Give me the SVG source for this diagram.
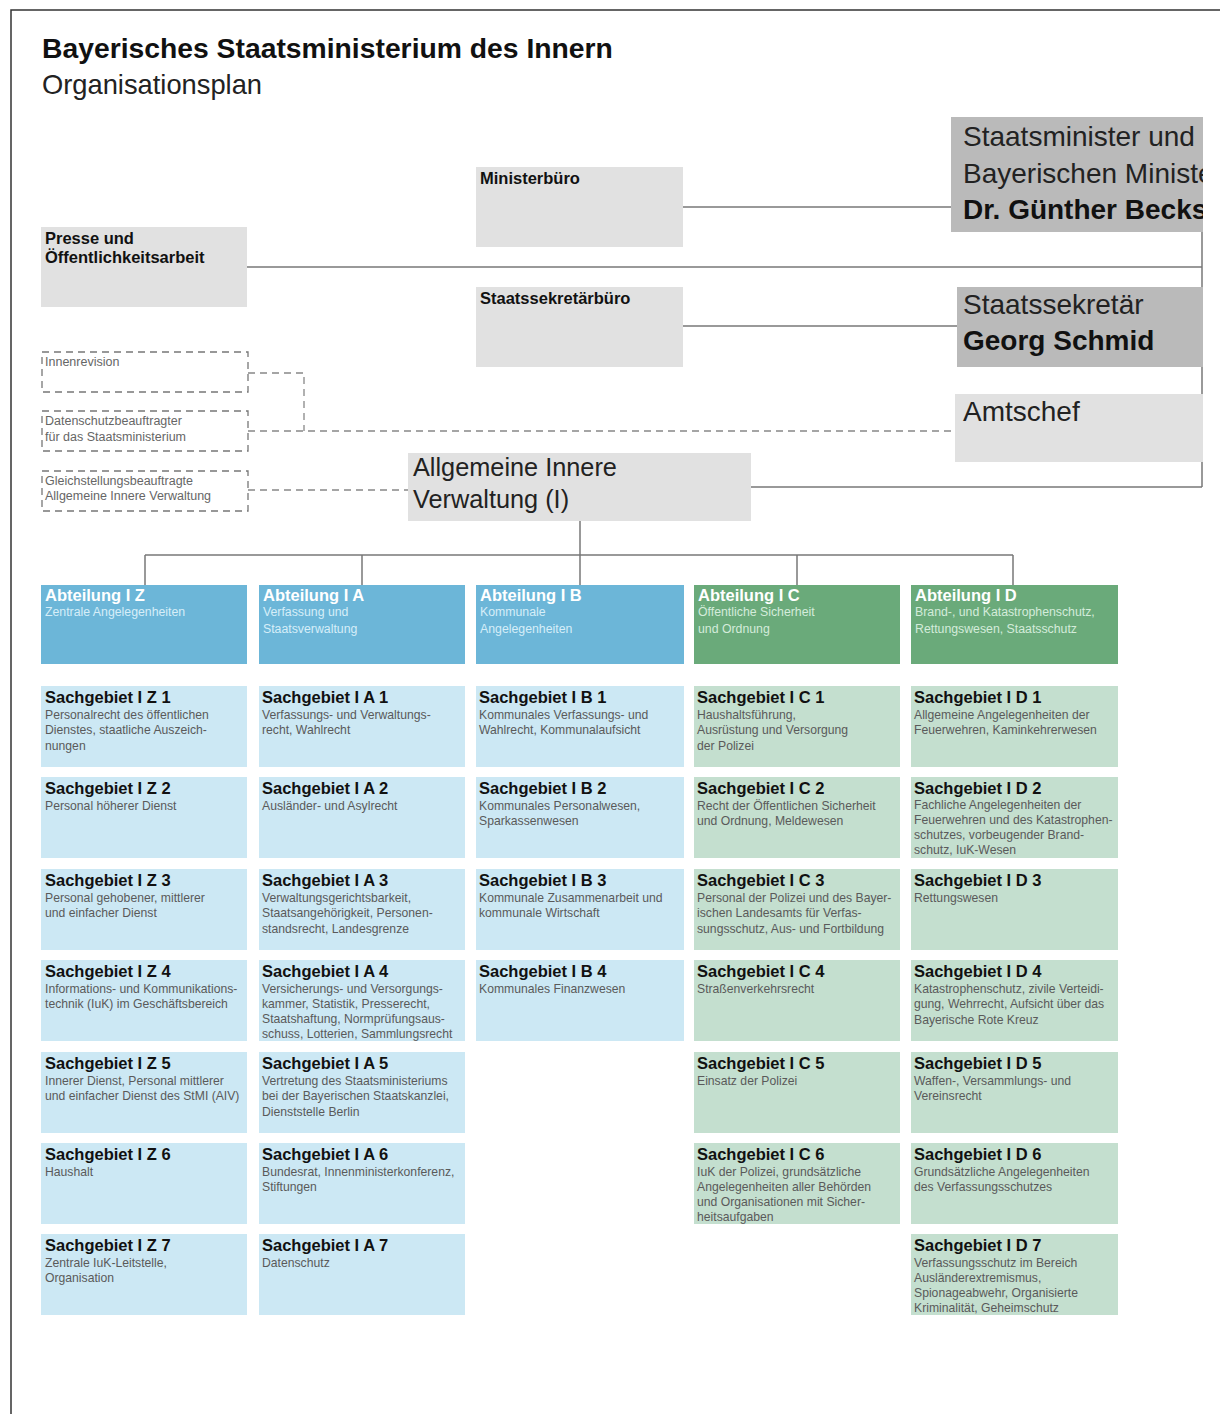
<svg xmlns="http://www.w3.org/2000/svg" width="1220" height="1414" viewBox="0 0 1220 1414">
  <style>
    text { font-family: "Liberation Sans", Arial, sans-serif; }
    .frame { stroke: #333; stroke-width: 1.5; fill: none; }
    .h1 { font-size: 28.3px; font-weight: bold; fill: #111; }
    .h2 { font-size: 27.3px; fill: #222; }
    .box-lt { fill: #e1e1e1; }
    .box-dk { fill: #bababa; }
    .lbl { font-size: 16.5px; font-weight: bold; fill: #111; }
    .big { font-size: 28px; fill: #222; }
    .bigb { font-size: 28px; font-weight: bold; fill: #111; }
    .mid { font-size: 25.3px; fill: #222; }
    .dbox { fill: none; stroke: #777; stroke-width: 1.3; stroke-dasharray: 7 5; }
    .dtxt { font-size: 12.5px; fill: #666; }
    .conn { stroke: #777; stroke-width: 1.5; fill: none; }
    .dconn { stroke: #888; stroke-width: 1.3; fill: none; stroke-dasharray: 7 5; }
    .abt-b { fill: #6cb6d8; }
    .abt-g { fill: #6aaa7a; }
    .sg-b { fill: #cce8f4; }
    .sg-g { fill: #c4dfcf; }
    .at { font-size: 16.5px; font-weight: bold; fill: #fff; }
    .as-b { font-size: 12.3px; fill: #d6eef8; }
    .as-g { font-size: 12.3px; fill: #d4ecda; }
    .st { font-size: 16.5px; font-weight: bold; fill: #111; }
    .sd { font-size: 12.2px; fill: #5a5a5a; }
  </style>
  <defs>
    <clipPath id="clipRight">
      <rect x="0" y="0" width="1203" height="1414"/>
    </clipPath>
  </defs>

  <!-- page frame -->
  <path class="frame" d="M11 1414 V10 H1220"/>

  <!-- heading -->
  <text class="h1" x="42" y="58">Bayerisches Staatsministerium des Innern</text>
  <text class="h2" x="42" y="94">Organisationsplan</text>

  <!-- connectors -->
  <g id="connectors">
    <line class="conn" x1="683" y1="207" x2="951" y2="207"/>
    <line class="conn" x1="247" y1="267" x2="1202" y2="267"/>
    <line class="conn" x1="683" y1="326" x2="957" y2="326"/>
    <line class="conn" x1="1202" y1="232" x2="1202" y2="487"/>
    <line class="conn" x1="751" y1="487" x2="1202" y2="487"/>
    <line class="conn" x1="580" y1="521" x2="580" y2="555"/>
    <line class="conn" x1="145" y1="555" x2="1013" y2="555"/>
    <line class="conn" x1="145" y1="555" x2="145" y2="585"/>
    <line class="conn" x1="362" y1="555" x2="362" y2="585"/>
    <line class="conn" x1="580" y1="555" x2="580" y2="585"/>
    <line class="conn" x1="797" y1="555" x2="797" y2="585"/>
    <line class="conn" x1="1013" y1="555" x2="1013" y2="585"/>
    <path class="dconn" d="M248 373 H304 V431"/>
    <line class="dconn" x1="248" y1="431" x2="955" y2="431"/>
    <line class="dconn" x1="248" y1="490" x2="408" y2="490"/>
  </g>

  <!-- leadership -->
  <g id="staatsminister" clip-path="url(#clipRight)">
    <rect class="box-dk" x="951" y="117" width="252" height="115"/>
    <text class="big" x="963" y="146">Staatsminister und</text>
    <text class="big" x="963" y="183">Bayerischen Ministe</text>
    <text class="bigb" x="963" y="219">Dr. Günther Becks</text>
  </g>
  <g id="staatssekretaer" clip-path="url(#clipRight)">
    <rect class="box-dk" x="957" y="287" width="246" height="80"/>
    <text class="big" x="963" y="314">Staatssekretär</text>
    <text class="bigb" x="963" y="350">Georg Schmid</text>
  </g>
  <g id="amtschef">
    <rect class="box-lt" x="955" y="394" width="248" height="68"/>
    <text class="big" x="963" y="421">Amtschef</text>
  </g>
  <g id="ministerbuero">
    <rect class="box-lt" x="476" y="167" width="207" height="80"/>
    <text class="lbl" x="480" y="184">Ministerbüro</text>
  </g>
  <g id="staatssekretaerbuero">
    <rect class="box-lt" x="476" y="287" width="207" height="80"/>
    <text class="lbl" x="480" y="304">Staatssekretärbüro</text>
  </g>
  <g id="presse">
    <rect class="box-lt" x="41" y="227" width="206" height="80"/>
    <text class="lbl" x="45" y="244">Presse und</text>
    <text class="lbl" x="45" y="263">Öffentlichkeitsarbeit</text>
  </g>

  <!-- staff units (dashed) -->
  <g id="innenrevision">
    <rect class="dbox" x="42" y="352" width="206" height="40"/>
    <text class="dtxt" x="45" y="366">Innenrevision</text>
  </g>
  <g id="datenschutzbeauftragter">
    <rect class="dbox" x="42" y="411" width="206" height="40"/>
    <text class="dtxt" x="45" y="425">Datenschutzbeauftragter</text>
    <text class="dtxt" x="45" y="441">für das Staatsministerium</text>
  </g>
  <g id="gleichstellung">
    <rect class="dbox" x="42" y="471" width="206" height="40"/>
    <text class="dtxt" x="45" y="485">Gleichstellungsbeauftragte</text>
    <text class="dtxt" x="45" y="500">Allgemeine Innere Verwaltung</text>
  </g>

  <g id="allgemeine-innere-verwaltung">
    <rect class="box-lt" x="408" y="453" width="343" height="68"/>
    <text class="mid" x="413" y="476">Allgemeine Innere</text>
    <text class="mid" x="413" y="508">Verwaltung (I)</text>
  </g>

  <!-- departments -->
  <g id="abt-iz">
    <rect class="abt-b" x="41" y="585" width="206" height="79"/>
    <text class="at" x="45" y="601">Abteilung I Z</text>
    <text class="as-b" x="45" y="616">Zentrale Angelegenheiten</text>
  </g>
  <g id="abt-ia">
    <rect class="abt-b" x="259" y="585" width="206" height="79"/>
    <text class="at" x="263" y="601">Abteilung I A</text>
    <text class="as-b" x="263" y="616">Verfassung und</text>
    <text class="as-b" x="263" y="633">Staatsverwaltung</text>
  </g>
  <g id="abt-ib">
    <rect class="abt-b" x="476" y="585" width="208" height="79"/>
    <text class="at" x="480" y="601">Abteilung I B</text>
    <text class="as-b" x="480" y="616">Kommunale</text>
    <text class="as-b" x="480" y="633">Angelegenheiten</text>
  </g>
  <g id="abt-ic">
    <rect class="abt-g" x="694" y="585" width="206" height="79"/>
    <text class="at" x="698" y="601">Abteilung I C</text>
    <text class="as-g" x="698" y="616">Öffentliche Sicherheit</text>
    <text class="as-g" x="698" y="633">und Ordnung</text>
  </g>
  <g id="abt-id">
    <rect class="abt-g" x="911" y="585" width="207" height="79"/>
    <text class="at" x="915" y="601">Abteilung I D</text>
    <text class="as-g" x="915" y="616">Brand-, und Katastrophenschutz,</text>
    <text class="as-g" x="915" y="633">Rettungswesen, Staatsschutz</text>
  </g>

  <!-- Sachgebiete I Z -->
  <g id="sg-iz1"><rect class="sg-b" x="41" y="686" width="206" height="81"/>
    <text class="st" x="45" y="703">Sachgebiet I Z 1</text>
    <text class="sd" x="45" y="719">Personalrecht des öffentlichen</text>
    <text class="sd" x="45" y="734">Dienstes, staatliche Auszeich-</text>
    <text class="sd" x="45" y="750">nungen</text></g>
  <g id="sg-iz2"><rect class="sg-b" x="41" y="777" width="206" height="81"/>
    <text class="st" x="45" y="794">Sachgebiet I Z 2</text>
    <text class="sd" x="45" y="810">Personal höherer Dienst</text></g>
  <g id="sg-iz3"><rect class="sg-b" x="41" y="869" width="206" height="81"/>
    <text class="st" x="45" y="886">Sachgebiet I Z 3</text>
    <text class="sd" x="45" y="902">Personal gehobener, mittlerer</text>
    <text class="sd" x="45" y="917">und einfacher Dienst</text></g>
  <g id="sg-iz4"><rect class="sg-b" x="41" y="960" width="206" height="81"/>
    <text class="st" x="45" y="977">Sachgebiet I Z 4</text>
    <text class="sd" x="45" y="993">Informations- und Kommunikations-</text>
    <text class="sd" x="45" y="1008">technik (IuK) im Geschäftsbereich</text></g>
  <g id="sg-iz5"><rect class="sg-b" x="41" y="1052" width="206" height="81"/>
    <text class="st" x="45" y="1069">Sachgebiet I Z 5</text>
    <text class="sd" x="45" y="1085">Innerer Dienst, Personal mittlerer</text>
    <text class="sd" x="45" y="1100">und einfacher Dienst des StMI (AIV)</text></g>
  <g id="sg-iz6"><rect class="sg-b" x="41" y="1143" width="206" height="81"/>
    <text class="st" x="45" y="1160">Sachgebiet I Z 6</text>
    <text class="sd" x="45" y="1176">Haushalt</text></g>
  <g id="sg-iz7"><rect class="sg-b" x="41" y="1234" width="206" height="81"/>
    <text class="st" x="45" y="1251">Sachgebiet I Z 7</text>
    <text class="sd" x="45" y="1267">Zentrale IuK-Leitstelle,</text>
    <text class="sd" x="45" y="1282">Organisation</text></g>

  <!-- Sachgebiete I A -->
  <g id="sg-ia1"><rect class="sg-b" x="259" y="686" width="206" height="81"/>
    <text class="st" x="262" y="703">Sachgebiet I A 1</text>
    <text class="sd" x="262" y="719">Verfassungs- und Verwaltungs-</text>
    <text class="sd" x="262" y="734">recht, Wahlrecht</text></g>
  <g id="sg-ia2"><rect class="sg-b" x="259" y="777" width="206" height="81"/>
    <text class="st" x="262" y="794">Sachgebiet I A 2</text>
    <text class="sd" x="262" y="810">Ausländer- und Asylrecht</text></g>
  <g id="sg-ia3"><rect class="sg-b" x="259" y="869" width="206" height="81"/>
    <text class="st" x="262" y="886">Sachgebiet I A 3</text>
    <text class="sd" x="262" y="902">Verwaltungsgerichtsbarkeit,</text>
    <text class="sd" x="262" y="917">Staatsangehörigkeit, Personen-</text>
    <text class="sd" x="262" y="933">standsrecht, Landesgrenze</text></g>
  <g id="sg-ia4"><rect class="sg-b" x="259" y="960" width="206" height="81"/>
    <text class="st" x="262" y="977">Sachgebiet I A 4</text>
    <text class="sd" x="262" y="993">Versicherungs- und Versorgungs-</text>
    <text class="sd" x="262" y="1008">kammer, Statistik, Presserecht,</text>
    <text class="sd" x="262" y="1023">Staatshaftung, Normprüfungsaus-</text>
    <text class="sd" x="262" y="1038">schuss, Lotterien, Sammlungsrecht</text></g>
  <g id="sg-ia5"><rect class="sg-b" x="259" y="1052" width="206" height="81"/>
    <text class="st" x="262" y="1069">Sachgebiet I A 5</text>
    <text class="sd" x="262" y="1085">Vertretung des Staatsministeriums</text>
    <text class="sd" x="262" y="1100">bei der Bayerischen Staatskanzlei,</text>
    <text class="sd" x="262" y="1116">Dienststelle Berlin</text></g>
  <g id="sg-ia6"><rect class="sg-b" x="259" y="1143" width="206" height="81"/>
    <text class="st" x="262" y="1160">Sachgebiet I A 6</text>
    <text class="sd" x="262" y="1176">Bundesrat, Innenministerkonferenz,</text>
    <text class="sd" x="262" y="1191">Stiftungen</text></g>
  <g id="sg-ia7"><rect class="sg-b" x="259" y="1234" width="206" height="81"/>
    <text class="st" x="262" y="1251">Sachgebiet I A 7</text>
    <text class="sd" x="262" y="1267">Datenschutz</text></g>

  <!-- Sachgebiete I B -->
  <g id="sg-ib1"><rect class="sg-b" x="476" y="686" width="208" height="81"/>
    <text class="st" x="479" y="703">Sachgebiet I B 1</text>
    <text class="sd" x="479" y="719">Kommunales Verfassungs- und</text>
    <text class="sd" x="479" y="734">Wahlrecht, Kommunalaufsicht</text></g>
  <g id="sg-ib2"><rect class="sg-b" x="476" y="777" width="208" height="81"/>
    <text class="st" x="479" y="794">Sachgebiet I B 2</text>
    <text class="sd" x="479" y="810">Kommunales Personalwesen,</text>
    <text class="sd" x="479" y="825">Sparkassenwesen</text></g>
  <g id="sg-ib3"><rect class="sg-b" x="476" y="869" width="208" height="81"/>
    <text class="st" x="479" y="886">Sachgebiet I B 3</text>
    <text class="sd" x="479" y="902">Kommunale Zusammenarbeit und</text>
    <text class="sd" x="479" y="917">kommunale Wirtschaft</text></g>
  <g id="sg-ib4"><rect class="sg-b" x="476" y="960" width="208" height="81"/>
    <text class="st" x="479" y="977">Sachgebiet I B 4</text>
    <text class="sd" x="479" y="993">Kommunales Finanzwesen</text></g>

  <!-- Sachgebiete I C -->
  <g id="sg-ic1"><rect class="sg-g" x="694" y="686" width="206" height="81"/>
    <text class="st" x="697" y="703">Sachgebiet I C 1</text>
    <text class="sd" x="697" y="719">Haushaltsführung,</text>
    <text class="sd" x="697" y="734">Ausrüstung und Versorgung</text>
    <text class="sd" x="697" y="750">der Polizei</text></g>
  <g id="sg-ic2"><rect class="sg-g" x="694" y="777" width="206" height="81"/>
    <text class="st" x="697" y="794">Sachgebiet I C 2</text>
    <text class="sd" x="697" y="810">Recht der Öffentlichen Sicherheit</text>
    <text class="sd" x="697" y="825">und Ordnung, Meldewesen</text></g>
  <g id="sg-ic3"><rect class="sg-g" x="694" y="869" width="206" height="81"/>
    <text class="st" x="697" y="886">Sachgebiet I C 3</text>
    <text class="sd" x="697" y="902">Personal der Polizei und des Bayer-</text>
    <text class="sd" x="697" y="917">ischen Landesamts für Verfas-</text>
    <text class="sd" x="697" y="933">sungsschutz, Aus- und Fortbildung</text></g>
  <g id="sg-ic4"><rect class="sg-g" x="694" y="960" width="206" height="81"/>
    <text class="st" x="697" y="977">Sachgebiet I C 4</text>
    <text class="sd" x="697" y="993">Straßenverkehrsrecht</text></g>
  <g id="sg-ic5"><rect class="sg-g" x="694" y="1052" width="206" height="81"/>
    <text class="st" x="697" y="1069">Sachgebiet I C 5</text>
    <text class="sd" x="697" y="1085">Einsatz der Polizei</text></g>
  <g id="sg-ic6"><rect class="sg-g" x="694" y="1143" width="206" height="81"/>
    <text class="st" x="697" y="1160">Sachgebiet I C 6</text>
    <text class="sd" x="697" y="1176">IuK der Polizei, grundsätzliche</text>
    <text class="sd" x="697" y="1191">Angelegenheiten aller Behörden</text>
    <text class="sd" x="697" y="1206">und Organisationen mit Sicher-</text>
    <text class="sd" x="697" y="1221">heitsaufgaben</text></g>

  <!-- Sachgebiete I D -->
  <g id="sg-id1"><rect class="sg-g" x="911" y="686" width="207" height="81"/>
    <text class="st" x="914" y="703">Sachgebiet I D 1</text>
    <text class="sd" x="914" y="719">Allgemeine Angelegenheiten der</text>
    <text class="sd" x="914" y="734">Feuerwehren, Kaminkehrerwesen</text></g>
  <g id="sg-id2"><rect class="sg-g" x="911" y="777" width="207" height="81"/>
    <text class="st" x="914" y="794">Sachgebiet I D 2</text>
    <text class="sd" x="914" y="809">Fachliche Angelegenheiten der</text>
    <text class="sd" x="914" y="824">Feuerwehren und des Katastrophen-</text>
    <text class="sd" x="914" y="839">schutzes, vorbeugender Brand-</text>
    <text class="sd" x="914" y="854">schutz, IuK-Wesen</text></g>
  <g id="sg-id3"><rect class="sg-g" x="911" y="869" width="207" height="81"/>
    <text class="st" x="914" y="886">Sachgebiet I D 3</text>
    <text class="sd" x="914" y="902">Rettungswesen</text></g>
  <g id="sg-id4"><rect class="sg-g" x="911" y="960" width="207" height="81"/>
    <text class="st" x="914" y="977">Sachgebiet I D 4</text>
    <text class="sd" x="914" y="993">Katastrophenschutz, zivile Verteidi-</text>
    <text class="sd" x="914" y="1008">gung, Wehrrecht, Aufsicht über das</text>
    <text class="sd" x="914" y="1024">Bayerische Rote Kreuz</text></g>
  <g id="sg-id5"><rect class="sg-g" x="911" y="1052" width="207" height="81"/>
    <text class="st" x="914" y="1069">Sachgebiet I D 5</text>
    <text class="sd" x="914" y="1085">Waffen-, Versammlungs- und</text>
    <text class="sd" x="914" y="1100">Vereinsrecht</text></g>
  <g id="sg-id6"><rect class="sg-g" x="911" y="1143" width="207" height="81"/>
    <text class="st" x="914" y="1160">Sachgebiet I D 6</text>
    <text class="sd" x="914" y="1176">Grundsätzliche Angelegenheiten</text>
    <text class="sd" x="914" y="1191">des Verfassungsschutzes</text></g>
  <g id="sg-id7"><rect class="sg-g" x="911" y="1234" width="207" height="81"/>
    <text class="st" x="914" y="1251">Sachgebiet I D 7</text>
    <text class="sd" x="914" y="1267">Verfassungsschutz im Bereich</text>
    <text class="sd" x="914" y="1282">Ausländerextremismus,</text>
    <text class="sd" x="914" y="1297">Spionageabwehr, Organisierte</text>
    <text class="sd" x="914" y="1312">Kriminalität, Geheimschutz</text></g>
</svg>
